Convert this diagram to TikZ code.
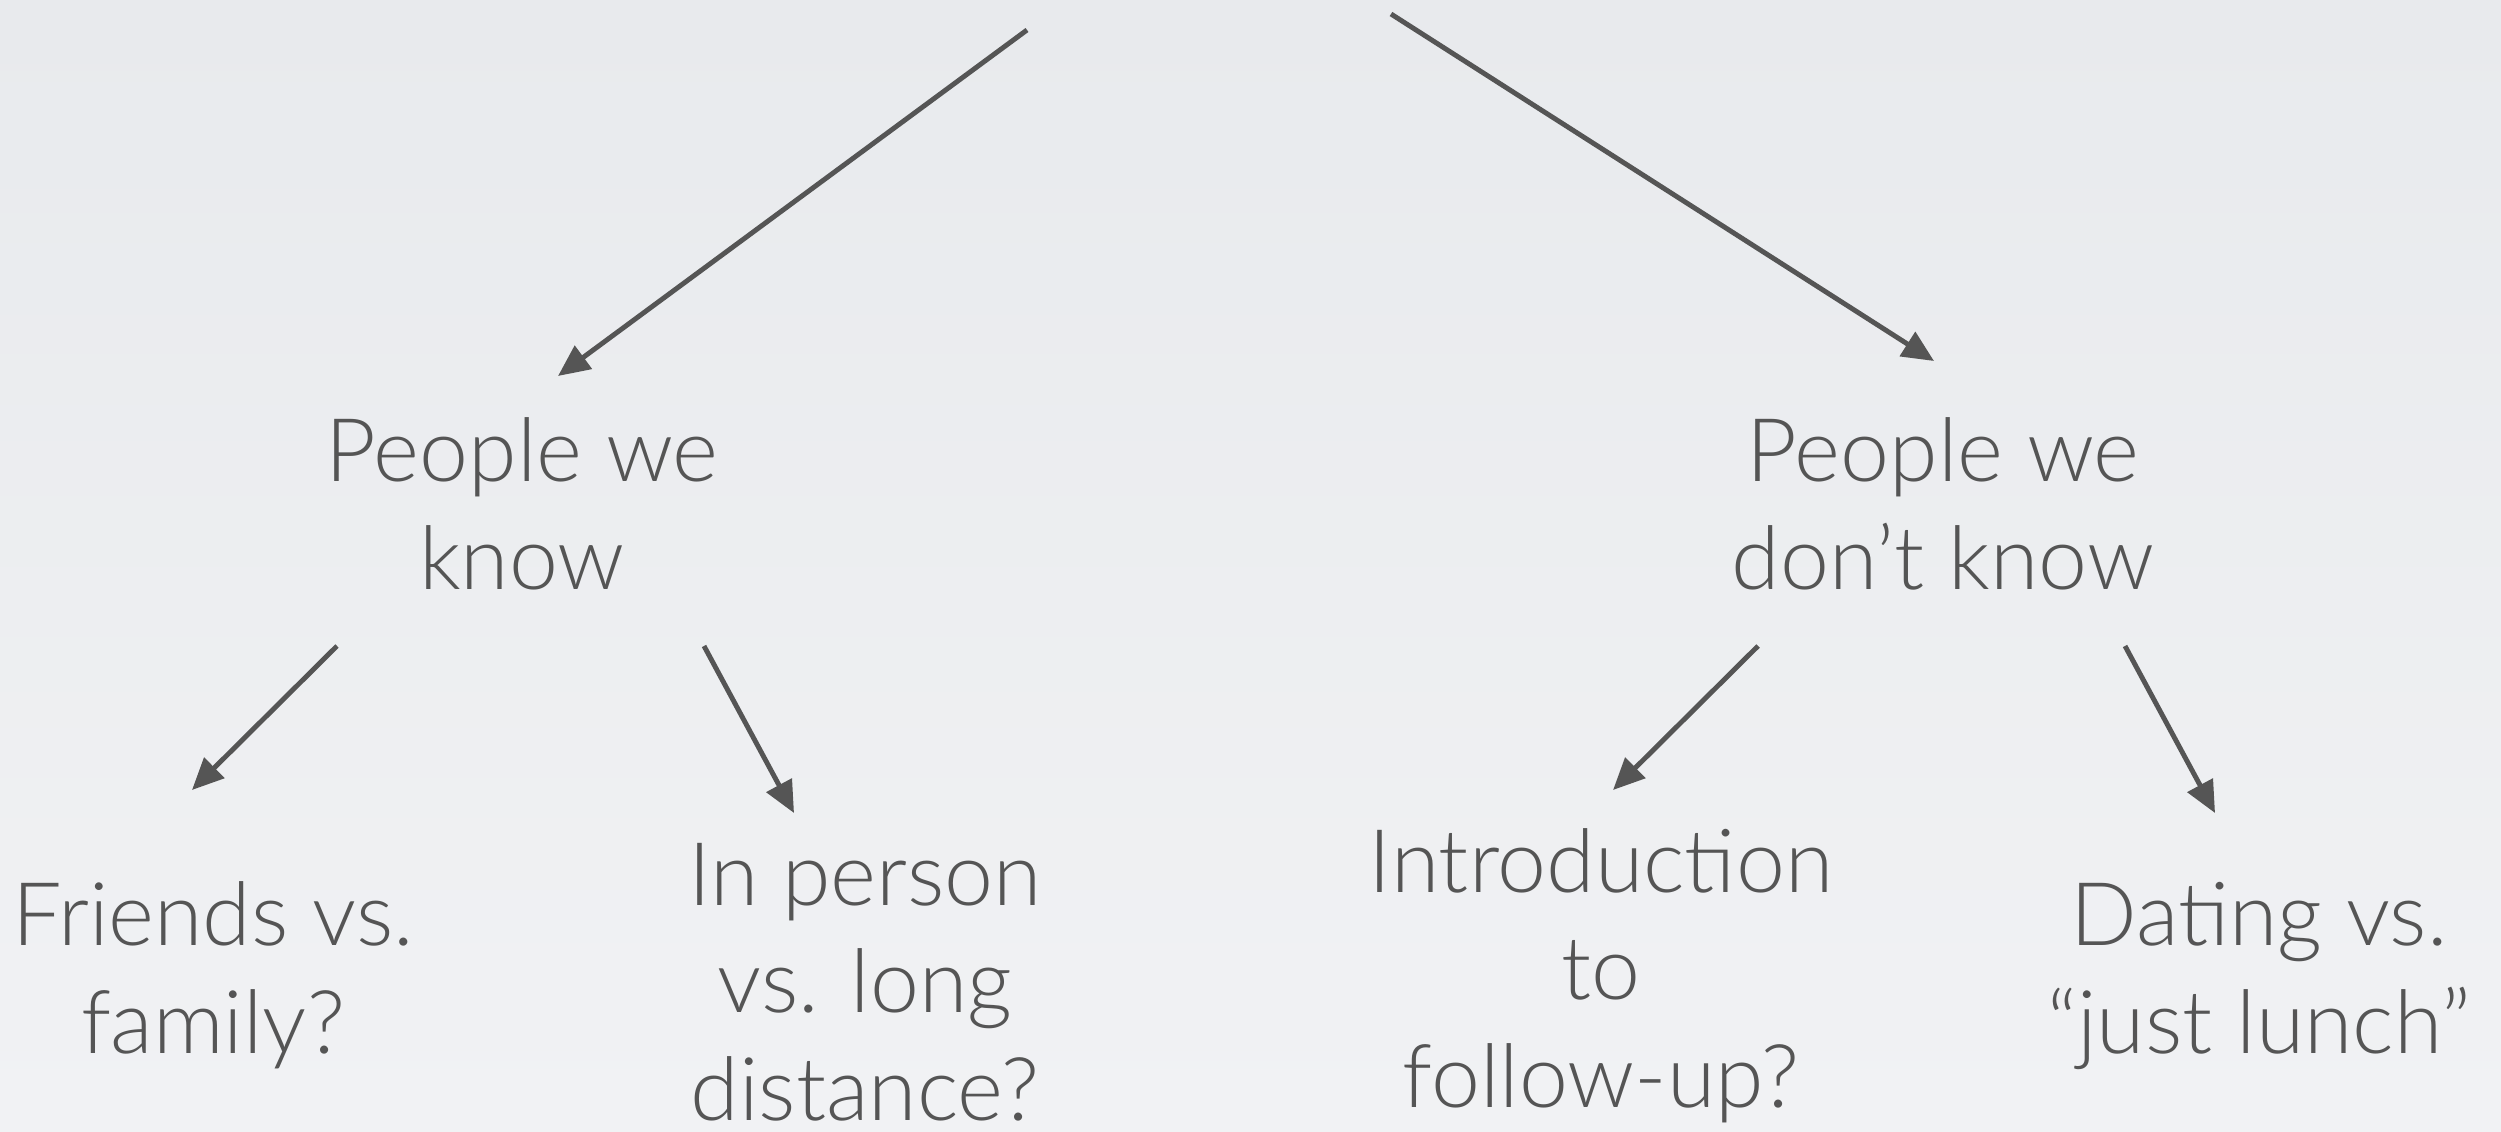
\documentclass[tikz,border=0pt]{standalone}
\usepackage{fontspec}
\setmainfont{Lato}[UprightFont=* Light]
\usepackage{xcolor}
\usetikzlibrary{arrows.meta}
\definecolor{inkgray}{RGB}{85,85,85}
\definecolor{bgtop}{RGB}{232,234,237}
\definecolor{bgbot}{RGB}{241,242,244}

\begin{document}
\begin{tikzpicture}[
    lbl/.style={anchor=base, align=center, inner sep=0pt, text=inkgray,
                font=\fontsize{25}{30.5}\selectfont},
    arr/.style={-{Triangle[length=9pt,width=8pt]}, draw=inkgray, line width=1.4pt}
]
    % background
    \shade[top color=bgtop, bottom color=bgbot] (0,0) rectangle (25.01,11.31);
    \useasboundingbox (0,0) rectangle (25.01,11.31);

    % Second level (placed at the baseline of the last line)
    \node[lbl] (know)     at (5.22,5.42)  {People we\\know};
    \node[lbl] (dontknow) at (19.43,5.42) {People we\\don’t know};

    % Third level
    \node[lbl] (friends) at (2.13,0.78)  {Friends vs.\\family?};
    \node[lbl] (person)  at (8.65,0.11)  {In person\\vs. long\\distance?};
    \node[lbl] (intro)   at (16.01,0.24) {Introduction\\to\\follow-up?};
    \node[lbl] (dating)  at (22.59,0.78) {Dating vs.\\“just lunch”};

    % Arrow ends
    \coordinate (rootL)  at (10.27,11.01);
    \coordinate (rootR)  at (13.91,11.17);
    \coordinate (knowIn) at (5.58,7.55);
    \coordinate (dontIn) at (19.34,7.70);
    \coordinate (knowL)  at (3.37,4.85);
    \coordinate (knowR)  at (7.04,4.85);
    \coordinate (dontL)  at (17.58,4.85);
    \coordinate (dontR)  at (21.25,4.85);
    \coordinate (friendsIn) at (1.92,3.41);
    \coordinate (personIn)  at (7.94,3.18);
    \coordinate (introIn)   at (16.13,3.41);
    \coordinate (datingIn)  at (22.15,3.18);

    \draw[arr] (rootL) -- (knowIn);
    \draw[arr] (rootR) -- (dontIn);
    \draw[arr] (knowL) -- (friendsIn);
    \draw[arr] (knowR) -- (personIn);
    \draw[arr] (dontL) -- (introIn);
    \draw[arr] (dontR) -- (datingIn);
\end{tikzpicture}
\end{document}
